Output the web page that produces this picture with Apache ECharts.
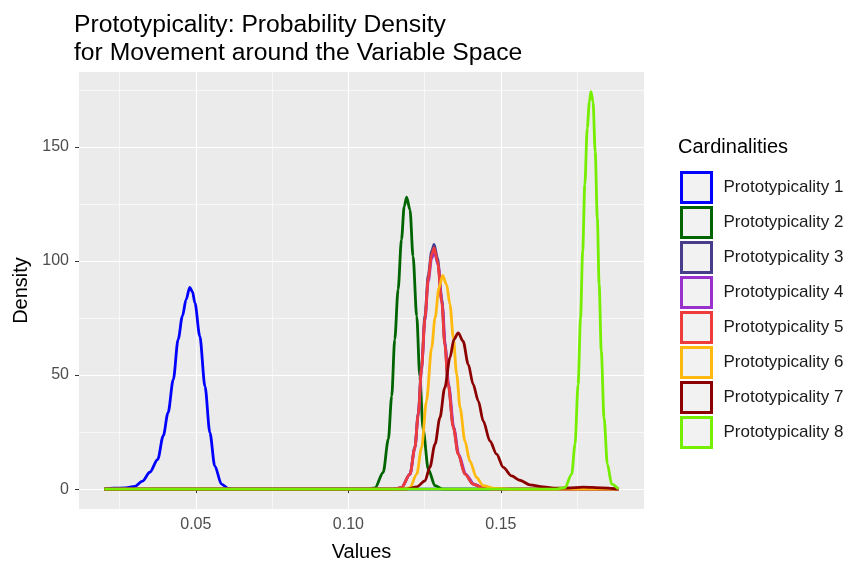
<!DOCTYPE html>
<html>
<head>
<meta charset="utf-8">
<script src="https://cdn.jsdelivr.net/npm/echarts@6/dist/echarts.min.js"></script>
<style>
  html, body { margin: 0; padding: 0; background: #fff; }
  #density { width: 848px; height: 562px; }
</style>
</head>
<body>
<div id="density"></div>
<script>
// legend entries and line colours
var names = ['Prototypicality 1', 'Prototypicality 2', 'Prototypicality 3', 'Prototypicality 4',
             'Prototypicality 5', 'Prototypicality 6', 'Prototypicality 7', 'Prototypicality 8'];
var colors = ['#0000FF', '#006400', '#483D8B', '#9932CC', '#EE3B3B', '#FFB90F', '#8B0000', '#76EE00'];

// density curves, [value, density]
var proto1 = [[0.020, 0], [0.023, 0.4], [0.027, 0.5], [0.030, 1.2], [0.0325, 3.5], [0.0349, 7.4],
  [0.0375, 13], [0.0393, 23.3], [0.0409, 33.5], [0.0426, 48], [0.0442, 65.6], [0.0456, 75.8],
  [0.0468, 83], [0.048, 88.4], [0.0489, 86.5], [0.0497, 81.6], [0.0513, 67], [0.053, 45],
  [0.0546, 24.8], [0.0562, 10.2], [0.0584, 2.2], [0.0606, 0.3], [0.063, 0], [0.1885, 0]];
var proto2 = [[0.020, 0], [0.106, 0], [0.1087, 0.5], [0.1114, 7.3], [0.1131, 21.9], [0.1142, 40.8],
  [0.1152, 65.6], [0.1163, 87.5], [0.1174, 109.3], [0.1183, 123.9], [0.1191, 128], [0.1202, 122.4],
  [0.1212, 102], [0.1224, 75.8], [0.1234, 49.5], [0.1245, 26.2], [0.1262, 8.7], [0.1284, 1.5],
  [0.131, 0], [0.1885, 0]];
var proto3 = [[0.020, 0], [0.115, 0], [0.1174, 0.7], [0.1202, 6.7], [0.1218, 18.5], [0.1229, 33.3],
  [0.124, 54], [0.1251, 76.2], [0.1262, 94], [0.1273, 104.3], [0.1281, 107.2], [0.1292, 101.3],
  [0.1306, 83.5], [0.1316, 64.3], [0.1327, 46.6], [0.1344, 27.4], [0.136, 15.5], [0.1382, 6.7],
  [0.1409, 2.2], [0.1437, 0.7], [0.147, 0], [0.1885, 0]];
var proto4 = [[0.020, 0], [0.115, 0], [0.1174, 0.7], [0.1202, 6.5], [0.1218, 17.9], [0.1229, 32.3],
  [0.124, 52.4], [0.1251, 74], [0.1262, 91.2], [0.1273, 101.2], [0.1282, 104], [0.1294, 98.3],
  [0.1308, 81], [0.1318, 62.4], [0.1329, 45.2], [0.1346, 26.6], [0.1362, 15.1], [0.1385, 6.5],
  [0.1412, 2.2], [0.144, 0.7], [0.1475, 0], [0.1885, 0]];
var proto5 = [[0.020, 0], [0.115, 0], [0.1174, 0.7], [0.1202, 6.6], [0.1218, 18.2], [0.1229, 32.8],
  [0.124, 53.2], [0.1251, 75.1], [0.1262, 92.6], [0.1273, 102.8], [0.1281, 105.7], [0.1292, 99.8],
  [0.1306, 82.3], [0.1316, 63.4], [0.1327, 45.9], [0.1344, 27], [0.136, 15.3], [0.1382, 6.6],
  [0.1409, 2.2], [0.1437, 0.7], [0.147, 0], [0.1885, 0]];
var proto6 = [[0.020, 0], [0.118, 0], [0.1202, 0.7], [0.1224, 6.6], [0.124, 18.2], [0.1256, 38.6],
  [0.1273, 62], [0.1284, 75], [0.1297, 88.2], [0.1309, 93.7], [0.1322, 89.6], [0.1333, 80.9],
  [0.1344, 66.3], [0.1355, 50.3], [0.1366, 35.7], [0.1382, 21.1], [0.1398, 12.4], [0.142, 5.1],
  [0.1442, 1.5], [0.148, 0.3], [0.155, 0], [0.1885, 0]];
var proto7 = [[0.020, 0], [0.119, 0], [0.1224, 1], [0.1251, 3.6], [0.1267, 9.5], [0.1284, 19.7],
  [0.13, 31.3], [0.1316, 44.5], [0.1333, 57.6], [0.1346, 65.6], [0.136, 68.5], [0.1376, 64.8],
  [0.1393, 54.7], [0.1409, 45.9], [0.1426, 38.6], [0.1442, 29.9], [0.1464, 21.1], [0.1486, 15.3],
  [0.1508, 9.5], [0.1535, 5.8], [0.1562, 3.9], [0.1595, 1.9], [0.1639, 1], [0.168, 0.4],
  [0.172, 0.5], [0.177, 0.9], [0.183, 0.6], [0.1885, 0]];
var proto8 = [[0.020, 0], [0.168, 0], [0.171, 0.7], [0.1732, 6.6], [0.1743, 19.7], [0.1753, 45.9],
  [0.1761, 75], [0.1768, 104.2], [0.1775, 133.4], [0.1783, 158.2], [0.179, 169.8], [0.1795, 174.2],
  [0.1802, 169.8], [0.1809, 147.9], [0.1816, 118.8], [0.1822, 89.6], [0.1829, 60.5], [0.1838, 31.3],
  [0.1849, 10.9], [0.1863, 2.2], [0.1885, 0]];

// tick labels
var xTicks = [0.05, 0.10, 0.15];
var yTicks = [0, 50, 100, 150];

var curves = [proto1, proto2, proto3, proto4, proto5, proto6, proto7, proto8];
var font = 'Liberation Sans, Arial, sans-serif';

var dom = document.getElementById('density');
var myChart = echarts.init(dom, null, { renderer: 'canvas' });

var option = {
  animation: false,
  title: [{
    text: 'Prototypicality: Probability Density\nfor Movement around the Variable Space',
    left: 74,
    top: 11,
    padding: 0,
    textStyle: { fontFamily: font, fontSize: 24.7, fontWeight: 'normal', color: '#000', lineHeight: 28 }
  }, {
    text: 'Cardinalities',
    left: 678,
    top: 137,
    padding: 0,
    textStyle: { fontFamily: font, fontSize: 20, fontWeight: 'normal', color: '#000' }
  }],
  legend: {
    orient: 'vertical',
    left: 680,
    top: 171,
    padding: 0,
    icon: 'rect',
    itemWidth: 30,
    itemHeight: 30,
    itemGap: 2,
    selectedMode: false,
    textStyle: { fontFamily: font, fontSize: 17, color: '#1A1A1A', padding: [0, 0, 0, 7] },
    data: names.map(function (n, i) {
      return { name: n, itemStyle: { color: '#F2F2F2', borderColor: colors[i], borderWidth: 3 } };
    })
  },
  grid: {
    left: 79, right: 204, top: 72, bottom: 53,
    outerBoundsMode: 'none',
    containLabel: false,
    show: true, backgroundColor: '#EBEBEB', borderWidth: 0
  },
  xAxis: {
    type: 'value',
    min: 0.0117, max: 0.1969,
    minInterval: 0.05, maxInterval: 0.05,
    name: 'Values',
    nameLocation: 'middle',
    nameGap: 33,
    nameTextStyle: { fontFamily: font, fontSize: 20, color: '#000' },
    axisLine: { show: false },
    axisTick: { show: true, length: 4, customValues: xTicks, lineStyle: { color: '#333333', width: 1 } },
    axisLabel: {
      customValues: xTicks, margin: 8, fontFamily: font, fontSize: 16, color: '#4D4D4D',
      formatter: function (v) { return v.toFixed(2); }
    },
    splitLine: { show: true, lineStyle: { color: '#FFFFFF', width: 1.1 } },
    minorTick: { show: false, splitNumber: 2 },
    minorSplitLine: { show: true, lineStyle: { color: '#FFFFFF', width: 0.6 } }
  },
  yAxis: {
    type: 'value',
    min: -8.7, max: 182.8,
    minInterval: 50, maxInterval: 50,
    name: 'Density',
    nameLocation: 'middle',
    nameGap: 46,
    nameTextStyle: { fontFamily: font, fontSize: 20, color: '#000' },
    axisLine: { show: false },
    axisTick: { show: true, length: 4, customValues: yTicks, lineStyle: { color: '#333333', width: 1 } },
    axisLabel: { customValues: yTicks, margin: 10, fontFamily: font, fontSize: 16, color: '#4D4D4D' },
    splitLine: { show: true, lineStyle: { color: '#FFFFFF', width: 1.1 } },
    minorTick: { show: false, splitNumber: 2 },
    minorSplitLine: { show: true, lineStyle: { color: '#FFFFFF', width: 0.6 } }
  },
  series: names.map(function (n, i) {
    return {
      name: n,
      type: 'line',
      data: curves[i],
      symbol: 'none',
      smooth: 0.3,
      smoothMonotone: 'x',
      itemStyle: { color: colors[i] },
      lineStyle: { color: colors[i], width: 2.8 }
    };
  })
};

if (option && typeof option === 'object') {
  myChart.setOption(option);
}

window.addEventListener('resize', myChart.resize);
</script>
</body>
</html>
